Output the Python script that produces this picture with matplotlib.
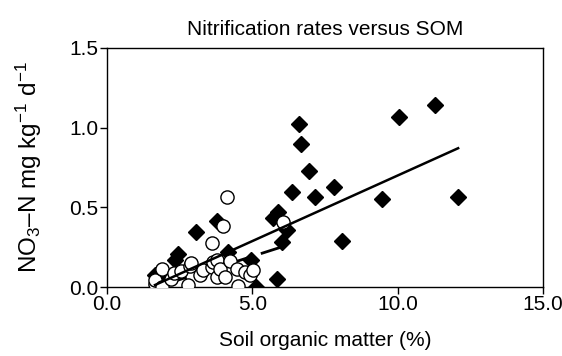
import matplotlib
matplotlib.use("Agg")
import matplotlib.pyplot as plt
import numpy as np

plt.rcParams['font.family'] = ['Liberation Sans', 'DejaVu Sans']
plt.rcParams['mathtext.fontset'] = 'custom'
plt.rcParams['mathtext.rm'] = 'Liberation Sans'
plt.rcParams['mathtext.it'] = 'Liberation Sans'
plt.rcParams['lines.scale_dashes'] = False

title = "Nitrification rates versus SOM"
xlabel = "Soil organic matter (%)"
ylabel = "NO$_3$–N mg kg$^{-1}$ d$^{-1}$"
xticks = [0.0, 5.0, 10.0, 15.0]
xticklabels = ["0.0", "5.0", "10.0", "15.0"]
yticks = [0.0, 0.5, 1.0, 1.5]
yticklabels = ["0.0", "0.5", "1.0", "1.5"]

# filled diamonds
diamond_x = [1.65, 1.77, 2.34, 2.45, 3.05, 3.77, 4.17, 4.95, 5.13, 5.84,
             5.70, 5.89, 6.03, 6.18, 6.36, 6.61, 6.67, 6.96, 7.16, 7.82, 8.09,
             9.45, 10.06, 11.28, 12.06]
diamond_y = [0.075, 0.06, 0.17, 0.21, 0.345, 0.415, 0.22, 0.17, 0.0, 0.048,
             0.435, 0.47, 0.285, 0.355, 0.595, 1.023, 0.898, 0.727, 0.565, 0.627, 0.29,
             0.554, 1.069, 1.144, 0.565]

# open circles
circle_x = [1.65, 1.65, 1.88, 1.88, 2.2, 2.3, 2.55, 2.8, 2.85, 2.88, 3.2, 3.3,
            3.6, 3.62, 3.66, 3.77, 3.8, 3.9, 4.0, 4.06, 4.12, 4.22, 4.46, 4.52,
            4.75, 4.92, 5.03, 6.07]
circle_y = [0.02, 0.045, 0.0, 0.115, 0.05, 0.085, 0.1, 0.01, 0.13, 0.148, 0.075, 0.105,
            0.125, 0.275, 0.16, 0.065, 0.17, 0.115, 0.38, 0.065, 0.565, 0.165, 0.115, 0.005,
            0.095, 0.075, 0.105, 0.41]

# regression lines (end points)
fit_all_x = [1.65, 12.08]
fit_all_y = [0.0125, 0.871]
fit_circ_x = [6.02, 1.7]
fit_circ_y = [0.252, 0.0]

fig = plt.figure(figsize=(5.62, 3.56), dpi=100)
ax = fig.add_axes([0.1904, 0.1938, 0.9662 - 0.1904, 0.8652 - 0.1938])

ax.plot(fit_circ_x, fit_circ_y, color='black', lw=2.0, zorder=1,
        dashes=(16, 8), dash_capstyle='butt')
ax.plot(diamond_x, diamond_y, linestyle='none', marker='D', markersize=8.5,
        markerfacecolor='black', markeredgecolor='black', zorder=2)
ax.plot(circle_x, circle_y, linestyle='none', marker='o', markersize=9.5,
        markerfacecolor='white', markeredgecolor='black', markeredgewidth=1.0, zorder=3)
ax.plot(fit_all_x, fit_all_y, color='black', lw=1.8, zorder=4)

ax.set_xlim(0, 15)
ax.set_ylim(0, 1.5)
ax.set_xticks(xticks)
ax.set_xticklabels(xticklabels)
ax.set_yticks(yticks)
ax.set_yticklabels(yticklabels)
ax.tick_params(direction='out', length=5, width=1, labelsize=15, pad=1)
for s in ax.spines.values():
    s.set_linewidth(1.0)

ax.set_title(title, fontsize=15, pad=9)
ax.set_xlabel(xlabel, fontsize=15, labelpad=12)
ax.set_ylabel(ylabel, fontsize=17.5, labelpad=18)

fig.savefig("out.png", dpi=100)
